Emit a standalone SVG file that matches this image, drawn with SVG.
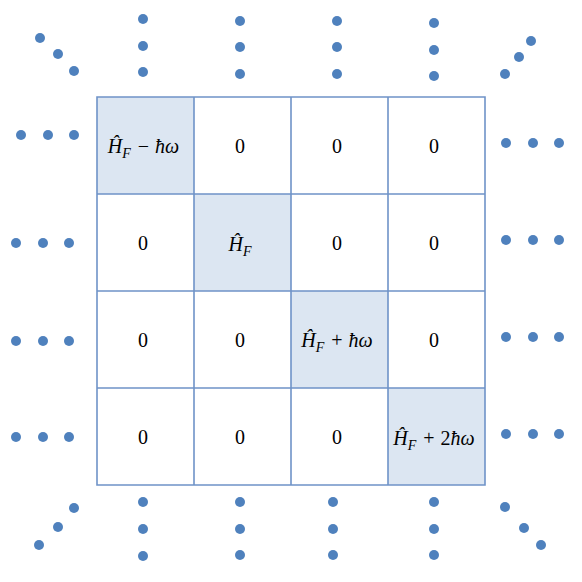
<svg xmlns="http://www.w3.org/2000/svg" width="582" height="582" viewBox="0 0 582 582">
<style>
.dot{fill:#4F81BD}
.cell{fill:#DCE6F2}
.grid{stroke:#6F93C8;stroke-width:1.6;fill:none}
.t{font-family:"Liberation Serif","Times New Roman",serif;font-size:20px;fill:#000;text-anchor:middle}
.i{font-style:italic}
.s{font-size:14px;font-style:italic}
</style>
<rect width="582" height="582" fill="#fff"/>
<g id="matrix">
<rect class="cell" x="97" y="97" width="97" height="97"/>
<rect class="cell" x="194" y="194" width="97" height="97"/>
<rect class="cell" x="291" y="291" width="97" height="97"/>
<rect class="cell" x="388" y="388" width="97" height="97"/>
<path class="grid" d="M97 97H485V485H97Z M194 97V485 M291 97V485 M388 97V485 M97 194H485 M97 291H485 M97 388H485"/>
</g>
<g id="labels">
<text class="t" x="143.5" y="153"><tspan class="i">Ĥ</tspan><tspan class="s" dy="5">F</tspan><tspan dy="-5" dx="7">−</tspan><tspan class="i" dx="6">ħω</tspan></text>
<text class="t" x="240" y="153">0</text>
<text class="t" x="337" y="153">0</text>
<text class="t" x="434" y="153">0</text>
<text class="t" x="143" y="250">0</text>
<text class="t" x="240" y="251"><tspan class="i">Ĥ</tspan><tspan class="s" dy="5">F</tspan></text>
<text class="t" x="337" y="250">0</text>
<text class="t" x="434" y="250">0</text>
<text class="t" x="143" y="347">0</text>
<text class="t" x="240" y="347">0</text>
<text class="t" x="337" y="347"><tspan class="i">Ĥ</tspan><tspan class="s" dy="5">F</tspan><tspan dy="-5" dx="7">+</tspan><tspan class="i" dx="6">ħω</tspan></text>
<text class="t" x="434" y="347">0</text>
<text class="t" x="143" y="444">0</text>
<text class="t" x="240" y="444">0</text>
<text class="t" x="337" y="444">0</text>
<text class="t" x="434" y="445"><tspan class="i">Ĥ</tspan><tspan class="s" dy="5">F</tspan><tspan dy="-5" dx="7">+</tspan><tspan dx="6">2</tspan><tspan class="i">ħω</tspan></text>
</g>
<g id="dots">
<circle class="dot" cx="40" cy="38" r="5"/><circle class="dot" cx="58" cy="54" r="5"/><circle class="dot" cx="74" cy="71" r="5"/>
<circle class="dot" cx="143" cy="19" r="5"/><circle class="dot" cx="143" cy="46" r="5"/><circle class="dot" cx="143" cy="72" r="5"/>
<circle class="dot" cx="240" cy="21" r="5"/><circle class="dot" cx="240" cy="47" r="5"/><circle class="dot" cx="240" cy="74" r="5"/>
<circle class="dot" cx="337" cy="21" r="5"/><circle class="dot" cx="337" cy="47" r="5"/><circle class="dot" cx="337" cy="74" r="5"/>
<circle class="dot" cx="434" cy="23" r="5"/><circle class="dot" cx="434" cy="50" r="5"/><circle class="dot" cx="434" cy="76" r="5"/>
<circle class="dot" cx="531" cy="41" r="5"/><circle class="dot" cx="519" cy="57" r="5"/><circle class="dot" cx="505" cy="74" r="5"/>
<circle class="dot" cx="21" cy="135" r="5"/><circle class="dot" cx="48" cy="135" r="5"/><circle class="dot" cx="74" cy="135" r="5"/>
<circle class="dot" cx="16" cy="243" r="5"/><circle class="dot" cx="43" cy="243" r="5"/><circle class="dot" cx="69" cy="243" r="5"/>
<circle class="dot" cx="16" cy="341" r="5"/><circle class="dot" cx="43" cy="341" r="5"/><circle class="dot" cx="69" cy="341" r="5"/>
<circle class="dot" cx="16" cy="437" r="5"/><circle class="dot" cx="43" cy="437" r="5"/><circle class="dot" cx="69" cy="437" r="5"/>
<circle class="dot" cx="506" cy="143" r="5"/><circle class="dot" cx="533" cy="143" r="5"/><circle class="dot" cx="559" cy="143" r="5"/>
<circle class="dot" cx="506" cy="240" r="5"/><circle class="dot" cx="533" cy="240" r="5"/><circle class="dot" cx="559" cy="240" r="5"/>
<circle class="dot" cx="506" cy="337" r="5"/><circle class="dot" cx="533" cy="337" r="5"/><circle class="dot" cx="559" cy="337" r="5"/>
<circle class="dot" cx="506" cy="434" r="5"/><circle class="dot" cx="533" cy="434" r="5"/><circle class="dot" cx="559" cy="434" r="5"/>
<circle class="dot" cx="74" cy="508" r="5"/><circle class="dot" cx="58" cy="527" r="5"/><circle class="dot" cx="39" cy="545" r="5"/>
<circle class="dot" cx="143" cy="502" r="5"/><circle class="dot" cx="143" cy="529" r="5"/><circle class="dot" cx="143" cy="556" r="5"/>
<circle class="dot" cx="240" cy="502" r="5"/><circle class="dot" cx="240" cy="529" r="5"/><circle class="dot" cx="240" cy="555" r="5"/>
<circle class="dot" cx="333" cy="502" r="5"/><circle class="dot" cx="333" cy="529" r="5"/><circle class="dot" cx="333" cy="555" r="5"/>
<circle class="dot" cx="434" cy="502" r="5"/><circle class="dot" cx="434" cy="529" r="5"/><circle class="dot" cx="434" cy="555" r="5"/>
<circle class="dot" cx="505" cy="507" r="5"/><circle class="dot" cx="524" cy="528" r="5"/><circle class="dot" cx="541" cy="545" r="5"/>
</g>
</svg>
